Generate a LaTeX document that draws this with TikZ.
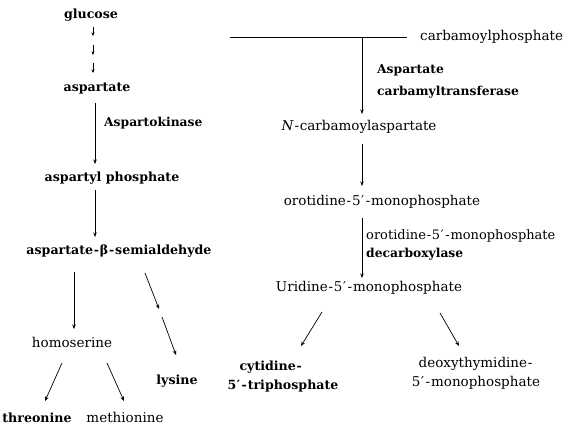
\documentclass[tikz,border=0pt]{standalone}
\usepackage{fontspec}
\setmainfont{DejaVu Serif}
\usetikzlibrary{arrows.meta}
\newcommand{\hy}{\kern0.8pt-\kern0.8pt}
\newcommand{\pr}{\kern0.5pt′\kern0.8pt}
\begin{document}
\begin{tikzpicture}[x=1pt,y=-1pt,
  lbl/.style={inner sep=0pt,anchor=base,font=\fontsize{13.5}{15}\selectfont},
  blbl/.style={inner sep=0pt,anchor=base,font=\fontsize{12.6}{15}\selectfont\bfseries},
  enz/.style={inner sep=0pt,anchor=base west,align=left,font=\fontsize{12.3}{22}\selectfont\bfseries},
  arr/.style={line width=0.7pt,-{Stealth[length=4.5pt,width=3.5pt]}},
  sarr/.style={line width=0.7pt,-{Stealth[length=3.5pt,width=3pt]}}]
\useasboundingbox (0,0) rectangle (576,425);
% left pathway
\node[blbl] (glu) at (91,19) {glucose};
\coordinate (g1a) at (93,27); \coordinate (g1b) at (93,36);
\coordinate (g2a) at (93,45); \coordinate (g2b) at (93,55);
\coordinate (g3a) at (93,63); \coordinate (g3b) at (93,73);
\draw[sarr] (g1a) -- (g1b);
\draw[sarr] (g2a) -- (g2b);
\draw[sarr] (g3a) -- (g3b);
\node[blbl] (asp) at (97,92) {aspartate};
\coordinate (a1) at (95,103); \coordinate (a2) at (95,164);
\draw[arr] (a1) -- (a2);
\node[enz] (ak) at (104,127) {Aspartokinase};
\node[blbl] (aspp) at (112,182) {aspartyl phosphate};
\coordinate (b1) at (95,190); \coordinate (b2) at (95,237);
\draw[arr] (b1) -- (b2);
\node[blbl] (asa) at (119,254) {aspartate\hy β\hy semialdehyde};
\coordinate (c1) at (74,272); \coordinate (c2) at (74,329);
\draw[arr] (c1) -- (c2);
\coordinate (l1) at (145,273); \coordinate (l2) at (159,309);
\coordinate (l3) at (162,317); \coordinate (l4) at (176,355);
\draw[arr] (l1) -- (l2);
\draw[arr] (l3) -- (l4);
\node[lbl] (hom) at (72,347) {homoserine};
\node[blbl] (lys) at (177,384) {lysine};
\coordinate (h1) at (62,363); \coordinate (h2) at (45,401);
\coordinate (h3) at (107,363); \coordinate (h4) at (124,401);
\draw[arr] (h1) -- (h2);
\draw[arr] (h3) -- (h4);
\node[blbl] (thr) at (37,422) {threonine};
\node[lbl] (met) at (125,422) {methionine};
% right pathway
\node[lbl,anchor=base west] (cp) at (420,41) {carbamoylphosphate};
\coordinate (hl) at (230,38); \coordinate (hr) at (407,38);
\coordinate (cpj) at (362,38);
\draw[line width=1pt] (hl) -- (hr);
\coordinate (d2) at (362,114);
\draw[arr] (cpj) -- (d2);
\node[enz] (act) at (377,96) {Aspartate\\carbamyltransferase};
\node[lbl] (nca) at (359,131) {\textit{N}\hy carbamoylaspartate};
\coordinate (e1) at (362,144); \coordinate (e2) at (362,186);
\draw[arr] (e1) -- (e2);
\node[lbl] (omp) at (382,206) {orotidine\hy 5\pr\hy monophosphate};
\coordinate (f1) at (362,218); \coordinate (f2) at (362,278);
\draw[arr] (f1) -- (f2);
\node[enz,font=\fontsize{13}{18}\selectfont] (ompd) at (366,257) {orotidine\hy 5\pr\hy monophosphate\\\fontsize{12.3}{18}\selectfont\textbf{decarboxylase}};
\node[lbl] (ump) at (369,291) {Uridine\hy 5\pr\hy monophosphate};
\coordinate (u1) at (322,312); \coordinate (u2) at (301,346);
\coordinate (u3) at (440,313); \coordinate (u4) at (459,346);
\draw[arr] (u1) -- (u2);
\draw[arr] (u3) -- (u4);
\node[blbl,anchor=north,align=left,font=\fontsize{12.6}{18.5}\selectfont\bfseries] (ctp) at (283,361) {\hspace*{0.95em}cytidine\hy\\5\pr\hy triphosphate};
\node[lbl,anchor=north,align=center,font=\fontsize{13.5}{19}\selectfont] (tmp) at (476,357) {deoxythymidine\hy\\5\pr\hy monophosphate};
\end{tikzpicture}
\end{document}
